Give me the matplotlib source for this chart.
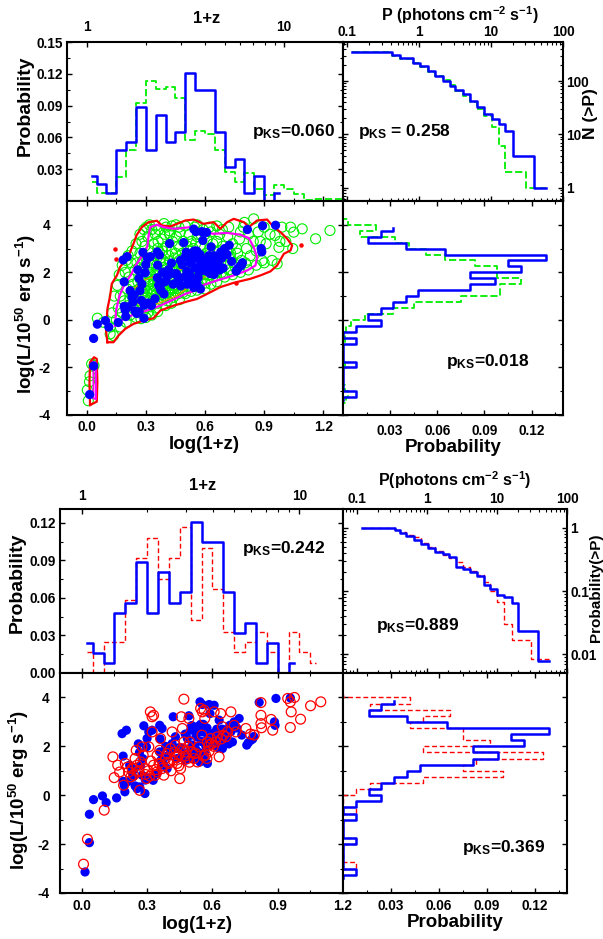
import matplotlib
matplotlib.use("Agg")
import matplotlib.pyplot as plt
from matplotlib.ticker import FixedLocator, FixedFormatter, NullFormatter, LogLocator

plt.rcParams.update({
    'font.family': ['Liberation Sans', 'DejaVu Sans'],
    'font.weight': 'bold',
    'mathtext.fontset': 'custom',
    'mathtext.rm': 'Liberation Sans:bold',
    'mathtext.it': 'Liberation Sans:bold',
    'mathtext.bf': 'Liberation Sans:bold',
    'mathtext.default': 'regular',
    'axes.unicode_minus': False,
    'axes.linewidth': 1.5,
    'xtick.direction': 'in', 'ytick.direction': 'in',
    'xtick.major.size': 3.5, 'ytick.major.size': 3.5,
    'xtick.minor.size': 2, 'ytick.minor.size': 2,
    'xtick.major.width': 1.0, 'ytick.major.width': 1.0,
    'xtick.minor.width': 0.8, 'ytick.minor.width': 0.8,
})

# ---------------------------------------------------------------- data
# log(1+z) histograms: bin centres and probabilities
lz_cent_obs = [0.025, 0.075, 0.125, 0.175, 0.225, 0.275, 0.325, 0.375, 0.425, 0.475,
               0.525, 0.575, 0.625, 0.675, 0.725, 0.775, 0.825, 0.875, 0.925, 0.975]
lz_prob_obs = [0.024, 0.016, 0.008, 0.048, 0.056, 0.089, 0.048, 0.081, 0.056, 0.065,
               0.121, 0.105, 0.105, 0.065, 0.032, 0.040, 0.008, 0.024, 0.000, 0.008]
lz_cent_sim = [0.025, 0.075, 0.125, 0.175, 0.225, 0.275, 0.325, 0.375, 0.425, 0.475,
               0.525, 0.575, 0.625, 0.675, 0.725, 0.775, 0.825, 0.875, 0.925, 0.975,
               1.025, 1.075, 1.125, 1.175, 1.225, 1.275, 1.325]
lz_prob_sim = [0.018, 0.008, 0.008, 0.023, 0.048, 0.092, 0.113, 0.106, 0.108, 0.097,
               0.058, 0.066, 0.063, 0.048, 0.027, 0.018, 0.026, 0.011, 0.006, 0.015,
               0.011, 0.007, 0.001, 0.0015, 0.0015, 0.002, 0.002]
lz_cent_red = [0.025, 0.075, 0.125, 0.175, 0.225, 0.275, 0.325, 0.375, 0.425, 0.475,
               0.525, 0.575, 0.625, 0.675, 0.725, 0.775, 0.825, 0.875, 0.925, 0.975,
               1.025, 1.075]
lz_prob_red = [0.017, 0.000, 0.025, 0.025, 0.058, 0.092, 0.108, 0.075, 0.092, 0.117,
               0.042, 0.100, 0.067, 0.033, 0.017, 0.025, 0.033, 0.017, 0.000, 0.033,
               0.017, 0.008]

# log L histograms: bin centres and probabilities
lL_cent_obs = [3.875, 3.625, 3.375, 3.125, 2.875, 2.625, 2.375, 2.125, 1.875, 1.625,
               1.375, 1.125, 0.875, 0.625, 0.375, 0.125, -0.125, -0.375, -0.625, -0.875,
               -1.125, -1.375, -1.625, -1.875, -2.125, -2.375, -2.625, -2.875, -3.125, -3.375]
lL_prob_obs = [0.032, 0.024, 0.016, 0.040, 0.065, 0.129, 0.105, 0.113, 0.081, 0.097,
               0.081, 0.048, 0.040, 0.032, 0.024, 0.016, 0.024, 0.008, 0.000, 0.008,
               0.000, 0.000, 0.000, 0.008, 0.000, 0.000, 0.000, 0.000, 0.008, 0.000]
lL_cent_sim = [4.375, 4.125, 3.875, 3.625, 3.375, 3.125, 2.875, 2.625, 2.375, 2.125,
               1.875, 1.625, 1.375, 1.125, 0.875, 0.625, 0.375, 0.125, -0.125, -0.375,
               -0.625, -0.875, -1.125, -1.375, -1.625, -1.875, -2.125, -2.375, -2.625,
               -2.875, -3.125, -3.375, -3.625]
lL_prob_sim = [0.000, 0.003, 0.021, 0.011, 0.033, 0.042, 0.053, 0.065, 0.084, 0.098,
               0.098, 0.113, 0.100, 0.100, 0.075, 0.045, 0.032, 0.014, 0.005, 0.002,
               0.001, 0.001, 0.000, 0.000, 0.000, 0.001, 0.000, 0.000, 0.000,
               0.001, 0.003, 0.002, 0.000]
lL_cent_red = [4.125, 3.875, 3.625, 3.375, 3.125, 2.875, 2.625, 2.375, 2.125, 1.875,
               1.625, 1.375, 1.125, 0.875, 0.625, 0.375, 0.125, -0.125, -0.375, -0.625,
               -0.875, -1.125, -1.375, -1.625, -1.875, -2.125, -2.375, -2.625, -2.875, -3.125]
lL_prob_red = [0.000, 0.042, 0.017, 0.067, 0.050, 0.042, 0.075, 0.075, 0.092, 0.050,
               0.125, 0.083, 0.075, 0.100, 0.050, 0.017, 0.008, 0.000, 0.000, 0.008,
               0.000, 0.000, 0.000, 0.000, 0.008, 0.000, 0.000, 0.000, 0.008, 0.000]

# peak-flux distributions
P_top_obs = [0.115, 0.417, 0.532, 0.817, 1.03, 1.31, 1.67, 2.14, 2.71, 3.18, 4.06, 5.04,
             6.38, 7.91, 10.3, 12.8, 15.8, 20.3, 39.4, 57.3]
N_top_obs = [355, 307, 266, 221, 191, 156, 124, 100, 81, 68, 57, 43, 32, 24, 19.4, 15.4,
             11.7, 4, 1, 1]
P_top_sim = [0.115, 0.417, 0.532, 0.817, 1.03, 1.31, 1.67, 2.14, 2.71, 3.18, 4.06, 5.04,
             6.38, 7.91, 10.3, 12.8, 15.8, 30.1, 57.3]
N_top_sim = [355, 300, 258, 215, 185, 150, 122, 104, 86, 66, 52, 40, 30, 22, 14, 6, 2, 1, 1]
P_bot_obs = [0.118, 0.349, 0.411, 0.511, 0.649, 0.817, 1.04, 1.32, 1.69, 2.10, 2.61, 3.32,
             4.17, 5.19, 6.45, 8.02, 9.96, 12.6, 16.3, 20.2, 38.8, 55.0]
F_bot_obs = [1.0, 0.92, 0.81, 0.75, 0.64, 0.545, 0.48, 0.41, 0.39, 0.35, 0.242, 0.22,
             0.20, 0.17, 0.126, 0.107, 0.087, 0.080, 0.064, 0.0237, 0.0078, 0.0078]
P_bot_red = [0.118, 0.349, 0.411, 0.511, 0.649, 0.817, 1.04, 1.32, 1.69, 2.10, 2.61, 3.32,
             4.17, 5.19, 6.45, 8.02, 9.96, 12.6, 16.3, 30.2, 55.0]
F_bot_red = [1.0, 0.93, 0.85, 0.77, 0.70, 0.57, 0.50, 0.43, 0.37, 0.33, 0.29, 0.24,
             0.21, 0.18, 0.14, 0.10, 0.068, 0.030, 0.0168, 0.0084, 0.0084]

# observed GRBs (log(1+z), log L)
obs_pts = [
    (0.015, -3.14), (0.035, -1.94), (0.035, -0.78),
    (0.054, -0.18), (0.095, -0.03),
    (0.112, -0.30),
    (0.160, -0.11), (0.185, 2.52), (0.190, 1.60), (0.190, 0.57), (0.195, 0.41), (0.198, 0.14),
    (0.205, 2.66), (0.220, 1.23), (0.230, 0.95), (0.245, 0.38), (0.210, 0.55), (0.240, 1.05), (0.235, 0.75),
    (0.254, 0.27), (0.266, 0.34), (0.285, 2.84), (0.290, 0.07), (0.297, 1.98), (0.270, 1.23), (0.277, 0.82),
    (0.260, 2.10), (0.280, 1.50), (0.265, 1.75), (0.292, 0.62),
    (0.300, 2.32), (0.308, 2.59), (0.323, 2.66), (0.328, 0.61), (0.346, 0.89), (0.310, 0.71),
    (0.374, 1.30), (0.358, 2.86), (0.369, 2.73), (0.358, 1.77), (0.377, 1.23), (0.392, 1.09), (0.360, 2.30),
    (0.385, 2.00), (0.395, 1.60), (0.365, 1.45),
    (0.400, 1.64), (0.415, 2.11), (0.420, 3.21), (0.430, 2.39), (0.438, 1.50), (0.445, 1.94), (0.410, 1.85),
    (0.455, 1.94), (0.469, 1.71), (0.477, 1.43), (0.485, 2.32), (0.492, 3.25), (0.460, 1.60), (0.475, 2.50),
    (0.495, 1.80),
    (0.500, 2.66), (0.508, 2.05), (0.515, 1.71), (0.530, 2.80), (0.543, 3.82), (0.546, 2.90), (0.543, 1.36),
    (0.520, 1.95), (0.525, 2.40), (0.535, 2.60), (0.510, 1.50), (0.540, 1.55), (0.548, 2.20), (0.505, 2.85),
    (0.530, 1.80),
    (0.554, 3.71), (0.554, 2.59), (0.562, 2.18), (0.565, 1.77), (0.577, 1.30), (0.585, 3.71), (0.589, 3.34),
    (0.560, 1.50), (0.570, 2.00), (0.580, 2.40), (0.595, 2.10), (0.575, 2.75), (0.558, 2.90),
    (0.608, 3.68), (0.600, 2.52), (0.608, 2.05), (0.631, 3.07), (0.638, 2.18), (0.646, 1.91), (0.615, 2.30),
    (0.620, 2.70), (0.625, 1.95), (0.640, 2.55), (0.605, 2.20), (0.635, 2.40), (0.645, 2.70),
    (0.654, 2.66), (0.669, 2.46), (0.680, 2.86), (0.692, 2.18), (0.660, 2.30), (0.675, 2.10), (0.685, 2.60),
    (0.695, 2.85),
    (0.700, 3.00), (0.712, 2.75), (0.723, 3.14), (0.735, 2.46),
    (0.758, 2.05), (0.777, 2.25), (0.765, 2.15), (0.790, 2.40), (0.785, 2.30),
    (0.815, 3.80),
    (0.885, 3.00), (0.888, 2.86), (0.892, 3.96),
    (0.958, 3.98)]

# simulated sample (top panel, open green circles)
sim_pts = [
    (0.008, -3.40), (0.003, -2.95), (0.014, -2.60), (0.017, -2.35), (0.025, -1.85), (0.037, -1.92),
    (0.054, 0.07), (0.085, -0.10),
    (0.119, -0.59), (0.136, -0.66),
    (0.155, 1.45), (0.170, 1.00), (0.180, 0.30), (0.190, 0.80), (0.160, 0.50), (0.195, 2.00),
    (0.205, 1.30), (0.210, 0.60), (0.215, 1.80), (0.220, 0.20), (0.225, 2.40), (0.230, 1.00),
    (0.235, 1.50), (0.240, 0.45), (0.245, 2.10), (0.210, 2.70), (0.240, 1.20), (0.220, 0.85),
    (0.255, 0.50), (0.260, 1.00), (0.260, 1.60), (0.265, 2.20), (0.270, 0.30), (0.270, 2.80),
    (0.275, 1.30), (0.280, 0.70), (0.280, 1.90), (0.285, 2.50), (0.285, 1.10), (0.290, 0.40),
    (0.290, 1.60), (0.295, 3.10), (0.295, 0.90), (0.255, 2.40), (0.265, 1.30), (0.275, 0.05),
    (0.280, 3.30), (0.290, 2.20), (0.260, 0.80), (0.298, 1.35), (0.272, 1.70),
    (0.300, 0.60), (0.300, 1.80), (0.305, 2.60), (0.305, 1.20), (0.310, 0.30), (0.310, 3.50),
    (0.315, 1.50), (0.315, 2.20), (0.320, 0.90), (0.320, 2.90), (0.325, 1.90), (0.325, 0.55),
    (0.330, 1.30), (0.330, 3.80), (0.335, 2.40), (0.335, 0.80), (0.340, 1.70), (0.340, 3.20),
    (0.345, 1.00), (0.345, 2.70), (0.350, 0.50), (0.350, 2.00), (0.302, 3.90), (0.318, 4.00),
    (0.328, 1.10), (0.338, 1.45), (0.312, 2.00), (0.348, 3.60),
    (0.355, 1.10), (0.355, 2.30), (0.360, 0.70), (0.360, 3.00), (0.365, 1.60), (0.365, 3.80),
    (0.370, 2.00), (0.370, 1.25), (0.375, 2.60), (0.375, 0.85), (0.380, 1.85), (0.380, 3.40),
    (0.385, 1.40), (0.385, 2.90), (0.390, 0.90), (0.390, 2.20), (0.395, 1.70), (0.395, 3.60),
    (0.358, 1.50), (0.368, 2.85), (0.378, 1.05), (0.388, 2.50), (0.398, 1.20), (0.352, 1.85),
    (0.362, 3.30), (0.392, 4.05),
    (0.400, 1.00), (0.400, 2.40), (0.405, 1.50), (0.405, 3.10), (0.410, 1.90), (0.410, 0.80),
    (0.415, 2.70), (0.415, 1.30), (0.420, 3.60), (0.420, 2.10), (0.425, 1.60), (0.425, 1.05),
    (0.430, 2.90), (0.430, 1.85), (0.435, 3.30), (0.435, 1.30), (0.440, 2.30), (0.440, 0.95),
    (0.445, 1.70), (0.445, 2.60), (0.402, 3.90), (0.412, 1.15), (0.422, 2.45), (0.432, 3.95),
    (0.442, 1.45), (0.448, 2.05), (0.418, 1.75),
    (0.450, 1.20), (0.450, 2.80), (0.455, 1.80), (0.455, 3.50), (0.460, 2.20), (0.460, 1.45),
    (0.465, 3.10), (0.465, 1.10), (0.470, 2.50), (0.470, 1.90), (0.475, 1.60), (0.475, 3.70),
    (0.480, 2.10), (0.480, 1.35), (0.485, 2.80), (0.485, 1.70), (0.490, 3.30), (0.490, 2.30),
    (0.495, 1.50), (0.495, 2.00), (0.452, 4.00), (0.468, 3.90), (0.488, 1.15), (0.478, 2.35),
    (0.500, 1.70), (0.505, 2.40), (0.510, 3.10), (0.515, 1.40), (0.520, 2.00), (0.520, 3.60),
    (0.525, 2.70), (0.530, 1.60), (0.535, 2.20), (0.540, 3.00), (0.540, 1.80), (0.545, 2.50),
    (0.548, 3.90), (0.510, 1.95), (0.530, 3.30),
    (0.550, 1.50), (0.555, 2.10), (0.560, 2.80), (0.560, 3.50), (0.565, 1.80), (0.570, 2.40),
    (0.575, 3.10), (0.580, 1.60), (0.580, 2.00), (0.585, 2.70), (0.590, 3.80), (0.590, 2.30),
    (0.595, 1.90), (0.552, 3.20), (0.568, 1.40), (0.578, 3.60), (0.598, 2.60),
    (0.600, 2.10), (0.605, 2.80), (0.610, 3.40), (0.610, 1.70), (0.615, 2.40), (0.620, 1.90),
    (0.625, 3.00), (0.630, 2.20), (0.630, 3.70), (0.635, 2.60), (0.640, 1.80), (0.640, 3.20),
    (0.645, 2.35), (0.648, 2.90), (0.602, 1.55), (0.622, 3.90),
    (0.650, 2.00), (0.655, 2.60), (0.660, 3.30), (0.665, 2.20), (0.670, 2.90), (0.675, 3.60),
    (0.680, 2.40), (0.685, 2.00), (0.690, 3.10), (0.695, 2.70), (0.658, 1.85), (0.688, 3.80),
    (0.700, 2.30), (0.710, 2.90), (0.715, 3.50), (0.720, 2.10), (0.730, 2.60), (0.740, 3.20),
    (0.745, 2.40),
    (0.755, 2.20), (0.765, 2.80), (0.775, 3.40), (0.785, 2.50), (0.795, 3.90),
    (0.805, 2.40), (0.810, 3.00), (0.820, 3.60), (0.830, 2.70), (0.847, 4.25), (0.845, 3.30),
    (0.860, 2.90), (0.870, 3.70), (0.890, 2.50),
    (0.910, 3.20), (0.940, 2.50),
    (0.955, 3.55), (0.966, 2.36), (0.975, 3.05), (0.990, 3.90),
    (1.010, 3.30), (1.034, 3.90), (1.045, 3.00),
    (1.050, 3.69), (1.093, 3.83),
    (1.161, 3.41), (1.234, 3.76),
    (0.130, 0.30), (0.150, 0.00), (0.170, -0.30), (0.120, -0.30), (0.140, 1.00), (0.165, 1.90),
    (0.180, 2.30), (0.200, -0.10), (0.200, 2.50), (0.230, 2.90), (0.250, 3.20), (0.270, 3.60),
    (0.290, 3.80), (0.250, 0.10), (0.300, 0.10), (0.330, 0.20), (0.360, 0.35), (0.400, 0.60),
    (0.430, 0.70), (0.470, 0.85), (0.500, 1.10), (0.530, 1.20), (0.560, 1.25), (0.600, 1.30),
    (0.630, 1.50), (0.660, 1.60), (0.700, 1.80), (0.740, 1.90), (0.780, 2.00), (0.820, 2.10),
    (0.860, 2.30), (0.900, 2.40), (0.350, 3.95), (0.420, 3.75), (0.500, 3.95), (0.560, 4.00),
    (0.600, 3.60), (0.660, 3.95), (0.720, 3.90), (0.780, 3.70), (0.800, 4.10), (0.900, 3.90),
    (0.930, 3.60), (0.980, 3.30), (0.880, 3.30), (0.760, 3.00), (0.730, 2.80), (0.320, 1.60),
    (0.370, 2.45), (0.440, 2.00), (0.490, 2.60), (0.520, 2.90), (0.550, 2.35), (0.620, 2.75),
    (0.670, 2.45), (0.570, 1.95), (0.470, 1.30), (0.420, 1.45), (0.340, 1.25), (0.280, 2.40)]

# second comparison sample (bottom panel, open red circles)
red_pts = [
    (0.008, -2.82), (0.026, -1.80),
    (0.103, -0.61), (0.143, 1.57), (0.149, 0.72),
    (0.165, 1.23), (0.174, 0.95), (0.192, 0.41),
    (0.200, 1.30), (0.215, 0.95), (0.231, 1.09), (0.238, 0.82), (0.210, 1.15), (0.245, 1.50), (0.225, 0.75),
    (0.250, 1.84), (0.254, 1.23), (0.257, 0.95), (0.266, 0.20), (0.270, 1.36), (0.277, 1.98), (0.282, 1.64),
    (0.288, 1.09), (0.297, 0.68), (0.262, 1.00), (0.292, 0.85),
    (0.308, 1.98), (0.315, 3.41), (0.323, 3.21), (0.330, 3.27), (0.323, 2.59), (0.330, 1.23), (0.338, 0.82),
    (0.346, 1.64), (0.305, 1.00), (0.312, 0.78), (0.340, 1.05), (0.318, 1.40), (0.345, 0.95),
    (0.358, 1.84), (0.362, 2.32), (0.369, 1.09), (0.377, 0.82), (0.385, 1.50), (0.392, 1.71), (0.355, 1.30),
    (0.370, 1.20), (0.395, 1.35),
    (0.400, 1.30), (0.408, 1.91), (0.415, 2.59), (0.420, 1.43), (0.426, 1.77), (0.430, 2.05), (0.438, 1.30),
    (0.446, 1.64), (0.410, 1.00), (0.435, 1.55), (0.445, 1.20),
    (0.450, 0.68), (0.454, 1.09), (0.457, 3.21), (0.462, 2.73), (0.469, 3.93), (0.469, 2.18), (0.477, 1.77),
    (0.485, 1.50), (0.492, 3.14), (0.497, 2.18), (0.460, 1.90), (0.475, 1.60), (0.488, 2.00), (0.495, 1.35),
    (0.508, 1.77), (0.515, 1.50), (0.523, 1.71), (0.531, 1.36), (0.538, 1.98), (0.546, 3.55),
    (0.554, 3.41), (0.562, 3.48), (0.565, 3.14), (0.569, 1.64), (0.577, 2.18), (0.585, 2.05), (0.592, 2.32),
    (0.552, 2.46), (0.560, 1.60), (0.575, 1.50), (0.585, 1.80), (0.595, 2.10),
    (0.608, 3.41), (0.615, 2.18), (0.623, 2.39), (0.631, 1.57), (0.638, 3.34), (0.646, 2.80), (0.605, 2.00),
    (0.640, 2.30),
    (0.651, 2.46), (0.662, 2.39), (0.685, 3.41), (0.670, 2.60),
    (0.700, 2.86), (0.708, 2.59),
    (0.754, 2.73), (0.792, 2.46), (0.775, 2.50),
    (0.823, 3.79), (0.823, 3.27), (0.823, 2.93), (0.826, 2.76),
    (0.877, 2.66), (0.870, 3.10),
    (0.946, 3.96), (0.958, 3.82), (0.962, 3.41), (0.958, 2.77), (0.977, 4.00),
    (1.005, 3.11),
    (1.051, 3.66), (1.098, 3.82)]

# density contours of the simulated sample (log(1+z), log L)
cont_red_x = [0.105, 0.098, 0.105, 0.119, 0.127, 0.153, 0.169, 0.195, 0.220, 0.237, 0.254, 0.280,
              0.314, 0.356, 0.381, 0.424, 0.458, 0.500, 0.542, 0.593, 0.644, 0.678, 0.712, 0.746,
              0.797, 0.822, 0.864, 0.915, 0.949, 0.983, 1.017, 1.042, 1.034, 1.000, 0.966, 0.932,
              0.881, 0.831, 0.746, 0.678, 0.610, 0.559, 0.508, 0.441, 0.373, 0.339, 0.288, 0.237,
              0.195, 0.161, 0.136, 0.105]
cont_red_y = [-0.94, -0.45, 0.46, 1.02, 1.52, 1.87, 2.22, 2.50, 2.85, 3.20, 3.58, 3.90,
              4.11, 4.17, 3.97, 3.93, 4.04, 4.18, 4.22, 4.04, 4.11, 3.83, 4.11, 4.25,
              4.11, 3.90, 4.18, 4.22, 3.90, 3.69, 3.41, 3.13, 2.92, 2.78, 2.29, 2.04,
              1.87, 1.73, 1.56, 1.38, 1.09, 0.88, 0.77, 0.60, 0.39, 0.07, -0.03, -0.17,
              -0.38, -0.66, -0.94, -0.94]
cont_red2_x = [0.017, 0.051, 0.054, 0.051, 0.037, 0.017, 0.014, 0.017]
cont_red2_y = [-3.58, -3.44, -2.62, -1.64, -1.57, -1.78, -2.62, -3.58]
cont_mag_x = [0.144, 0.149, 0.166, 0.190, 0.224, 0.246, 0.271, 0.297, 0.308, 0.314, 0.322, 0.356,
              0.390, 0.441, 0.483, 0.525, 0.576, 0.644, 0.712, 0.780, 0.822, 0.847, 0.864, 0.856,
              0.814, 0.746, 0.661, 0.593, 0.551, 0.500, 0.441, 0.373, 0.305, 0.237, 0.186, 0.153,
              0.144]
cont_mag_y = [-0.24, 0.39, 1.02, 1.47, 1.89, 2.26, 2.57, 2.85, 3.13, 3.55, 3.90, 4.00,
              3.90, 3.83, 3.86, 3.90, 3.72, 3.62, 3.66, 3.58, 3.44, 3.06, 2.64, 2.29,
              2.08, 1.87, 1.66, 1.47, 1.24, 1.09, 0.86, 0.60, 0.39, 0.22, 0.04, -0.17,
              -0.24]
cont_mag2_x = [0.034, 0.047, 0.047, 0.034, 0.034]
cont_mag2_y = [-1.78, -1.80, -3.33, -3.30, -1.78]
cont_org_x = [0.229, 0.271, 0.356, 0.458, 0.542, 0.610, 0.644, 0.576, 0.508, 0.441, 0.356,
              0.288, 0.237, 0.229]
cont_org_y = [1.02, 0.60, 0.67, 1.02, 1.52, 1.87, 2.22, 2.36, 2.22, 2.01, 1.87,
              1.66, 1.31, 1.02]
red_dots_x = [0.144, 0.147, 0.759, 1.085]
red_dots_y = [2.99, 2.57, 1.56, 3.16]

pks_texts = ['0.060', '0.258', '0.018', '0.242', '0.889', '0.369']

# ---------------------------------------------------------------- figure
W, H = 603, 939
fig = plt.figure(figsize=(W / 100, H / 100), dpi=100)


def box(l, r, t, b):
    return [l / W, 1 - b / H, (r - l) / W, (b - t) / H]


BLUE = '#0000FF'
GREEN = '#00EE00'
RED = '#FF0000'
MAG = '#FF00FF'
ORG = '#FF8C00'
TFS = 9.8
LFS = 13.5


def vstep(ax, centers, values, **kw):
    xs, ys = [values[0]], [centers[0]]
    for i in range(len(centers) - 1):
        m = 0.5 * (centers[i] + centers[i + 1])
        ys += [m, m]
        xs += [values[i], values[i + 1]]
    xs.append(values[-1])
    ys.append(centers[-1])
    ax.plot(xs, ys, **kw)


def bold_ticks(ax):
    for lab in ax.get_xticklabels() + ax.get_yticklabels():
        lab.set_fontweight('bold')


def setup_lz_axis(ax, xmax, labels_bottom):
    ax.set_xlim(-0.1, xmax)
    ax.xaxis.set_major_locator(FixedLocator([0.0, 0.3, 0.6, 0.9, 1.2]))
    ax.xaxis.set_minor_locator(FixedLocator([-0.15, 0.15, 0.45, 0.75, 1.05]))
    if labels_bottom:
        ax.xaxis.set_major_formatter(FixedFormatter(['0.0', '0.3', '0.6', '0.9', '1.2']))
    else:
        ax.xaxis.set_major_formatter(NullFormatter())
    ax.tick_params(axis='x', which='both', top=True, bottom=True, labelsize=TFS)


def setup_lL_axis(ax, labels_left, pad=3):
    ax.set_ylim(-4, 5)
    ax.yaxis.set_major_locator(FixedLocator([-4, -2, 0, 2, 4]))
    ax.yaxis.set_minor_locator(FixedLocator([-3, -1, 1, 3]))
    if labels_left:
        ax.yaxis.set_major_formatter(FixedFormatter(['-4', '-2', '0', '2', '4']))
    else:
        ax.yaxis.set_major_formatter(NullFormatter())
    ax.tick_params(axis='y', which='both', left=True, right=True, labelsize=TFS, pad=pad)


def add_pks(ax, x, y, val, sep='='):
    ax.text(x, y, r'p$_{KS}$' + sep + val, transform=ax.transAxes, fontsize=12.5,
            fontweight='bold', ha='left', va='center', zorder=6)


ax1 = fig.add_axes(box(67, 343, 42, 201))
ax2 = fig.add_axes(box(343, 563, 42, 201))
ax3 = fig.add_axes(box(67, 343, 201, 415))
ax4 = fig.add_axes(box(343, 563, 201, 415))
ax5 = fig.add_axes(box(60, 343, 509, 673))
ax6 = fig.add_axes(box(343, 567, 509, 673))
ax7 = fig.add_axes(box(60, 343, 673, 893))
ax8 = fig.add_axes(box(343, 567, 673, 893))

dash_g = dict(color=GREEN, lw=1.3, ls=(0, (4, 1.6)), zorder=3)
dash_r = dict(color=RED, lw=1.0, ls=(0, (3.5, 2)), zorder=3)
solid_b = dict(color=BLUE, lw=1.8, zorder=4)

# ---------- redshift histograms ----------
for ax, lz_c2, lz_p2, dsty, xmax, ylim, yt, ytl in [
        (ax1, lz_cent_sim, lz_prob_sim, dash_g, 1.3, 0.15,
         [0.03, 0.06, 0.09, 0.12, 0.15], ['0.03', '0.06', '0.09', '0.12', '0.15']),
        (ax5, lz_cent_red, lz_prob_red, dash_r, 1.2, 0.131,
         [0.0, 0.03, 0.06, 0.09, 0.12], ['0.00', '0.03', '0.06', '0.09', '0.12'])]:
    ax.step(lz_c2, lz_p2, where='mid', **dsty)
    ax.step(lz_cent_obs, lz_prob_obs, where='mid', **solid_b)
    setup_lz_axis(ax, xmax, False)
    ax.set_ylim(0, ylim)
    ax.yaxis.set_major_locator(FixedLocator(yt))
    ax.yaxis.set_major_formatter(FixedFormatter(ytl))
    ax.yaxis.set_minor_locator(FixedLocator([0.015, 0.045, 0.075, 0.105, 0.135]))
    ax.tick_params(axis='y', which='both', left=True, right=True, labelsize=TFS, pad=3)
    ax.tick_params(axis='x', which='both', top=False)
    tw = ax.twiny()
    tw.set_xlim(ax.get_xlim())
    tw.xaxis.set_major_locator(FixedLocator([0.0, 1.0]))
    tw.xaxis.set_major_formatter(FixedFormatter(['1', '10']))
    tw.xaxis.set_minor_locator(FixedLocator([0.30103, 0.47712, 0.60206, 0.69897, 0.77815,
                                             0.84510, 0.90309, 0.95424, 1.30103]))
    tw.tick_params(axis='x', which='both', labelsize=TFS, pad=6 if ax is ax1 else 4)
    tw.set_xlabel('1+z', fontsize=12, fontweight='bold')
    tw.xaxis.set_label_coords(0.507 if ax is ax1 else 0.505, 1.15 if ax is ax1 else 1.146)
    tw.xaxis.label.set_va('center')
    for lab in tw.get_xticklabels():
        lab.set_fontweight('bold')
    for s in tw.spines.values():
        s.set_visible(False)
    ax.set_ylabel('Probability', fontsize=14, fontweight='bold')
    ax.yaxis.label.set_va('center')

ax1.yaxis.set_label_coords(-0.15, 0.60)
ax5.yaxis.set_label_coords(-0.152, 0.55)
add_pks(ax1, 0.67, 0.44, pks_texts[0])
add_pks(ax5, 0.643, 0.76, pks_texts[3])

# ---------- peak flux distributions ----------
ax2.step(P_top_sim, N_top_sim, where='post', **dash_g)
ax2.step(P_top_obs, N_top_obs, where='post', **solid_b)
ax2.set_xscale('log')
ax2.set_yscale('log')
ax2.set_xlim(0.087, 100)
ax2.set_ylim(0.56, 540)
ax2.yaxis.set_major_locator(FixedLocator([1, 10, 100]))
ax2.yaxis.set_major_formatter(FixedFormatter(['1', '10', '100']))
ax2.set_ylabel('N (>P)', fontsize=12.5, fontweight='bold')
ax2.yaxis.set_label_position('right')
ax2.yaxis.set_label_coords(1.127, 0.553)
ax2.yaxis.label.set_va('center')
ax2.set_xlabel('P (photons cm$^{-2}$ s$^{-1}$)', fontsize=11.5, fontweight='bold')
ax2.xaxis.set_label_position('top')
ax2.xaxis.set_label_coords(0.532, 1.17)
ax2.xaxis.label.set_va('center')
add_pks(ax2, 0.068, 0.44, pks_texts[1], sep=' = ')

ax6.step(P_bot_red, F_bot_red, where='post', **dash_r)
ax6.step(P_bot_obs, F_bot_obs, where='post', **solid_b)
ax6.set_xscale('log')
ax6.set_yscale('log')
ax6.set_xlim(0.064, 100)
ax6.set_ylim(0.0051, 1.97)
ax6.yaxis.set_major_locator(FixedLocator([0.01, 0.1, 1]))
ax6.yaxis.set_major_formatter(FixedFormatter(['0.01', '0.1', '1']))
ax6.set_ylabel('Probability(>P)', fontsize=11, fontweight='bold')
ax6.yaxis.set_label_position('right')
ax6.yaxis.set_label_coords(1.129, 0.52)
ax6.yaxis.label.set_va('center')
ax6.set_xlabel('P(photons cm$^{-2}$ s$^{-1}$)', fontsize=11.5, fontweight='bold')
ax6.xaxis.set_label_position('top')
ax6.xaxis.set_label_coords(0.5, 1.175)
ax6.xaxis.label.set_va('center')
add_pks(ax6, 0.147, 0.29, pks_texts[4])

for ax in (ax2, ax6):
    ax.xaxis.set_major_locator(FixedLocator([0.1, 1, 10, 100]))
    ax.xaxis.set_major_formatter(FixedFormatter(['0.1', '1', '10', '100']))
    ax.xaxis.set_minor_locator(LogLocator(base=10, subs=[2, 3, 4, 5, 6, 7, 8, 9], numticks=20))
    ax.xaxis.set_minor_formatter(NullFormatter())
    ax.yaxis.set_minor_locator(LogLocator(base=10, subs=[2, 3, 4, 5, 6, 7, 8, 9], numticks=20))
    ax.yaxis.set_minor_formatter(NullFormatter())
    ax.tick_params(axis='both', which='both', top=True, bottom=True, left=True, right=True,
                   labeltop=True, labelbottom=False, labelleft=False, labelright=True,
                   labelsize=TFS, pad=2.5)

# ---------- luminosity-redshift planes ----------
sx = [p[0] for p in sim_pts]
sy = [p[1] for p in sim_pts]
ax3.scatter(sx, sy, s=52, facecolors='none', edgecolors=GREEN, linewidths=0.8, zorder=2)
ax3.plot(cont_red_x, cont_red_y, color=RED, lw=1.6, zorder=3)
ax3.plot(cont_red2_x, cont_red2_y, color=RED, lw=1.6, zorder=3)
ax3.plot(cont_mag_x, cont_mag_y, color=MAG, lw=1.6, zorder=3)
ax3.plot(cont_mag2_x, cont_mag2_y, color=MAG, lw=1.4, zorder=3)
ax3.plot(cont_org_x, cont_org_y, color=ORG, lw=0.8, zorder=3)
ax3.scatter(red_dots_x, red_dots_y, s=5, color=RED, zorder=3)
ox = [p[0] for p in obs_pts]
oy = [p[1] for p in obs_pts]
ax3.scatter(ox, oy, s=44, color=BLUE, edgecolors='none', zorder=5)

rx = [p[0] for p in red_pts]
ry = [p[1] for p in red_pts]
ax7.scatter(ox, oy, s=44, color=BLUE, edgecolors='none', zorder=4)
ax7.scatter(rx, ry, s=50, facecolors='none', edgecolors=RED, linewidths=0.9, zorder=5)

setup_lz_axis(ax3, 1.3, True)
setup_lL_axis(ax3, True, pad=12)
setup_lz_axis(ax7, 1.2, True)
setup_lL_axis(ax7, True, pad=7.5)
ax3.tick_params(axis='x', pad=3.5)
ax7.tick_params(axis='x', pad=4.5)
for ax, yx, xl in ((ax3, (-0.148, 0.472), (0.496, -0.14)), (ax7, (-0.145, 0.468), (0.484, -0.141))):
    ax.set_ylabel('log(L/10$^{50}$ erg s$^{-1}$)', fontsize=LFS, fontweight='bold')
    ax.yaxis.set_label_coords(*yx)
    ax.yaxis.label.set_va('center')
    ax.set_xlabel('log(1+z)', fontsize=LFS, fontweight='bold')
    ax.xaxis.set_label_coords(*xl)
    ax.xaxis.label.set_va('center')

# ---------- luminosity histograms ----------
vstep(ax4, lL_cent_sim, lL_prob_sim, **dash_g)
vstep(ax4, lL_cent_obs, lL_prob_obs, **solid_b)
vstep(ax8, lL_cent_red, lL_prob_red, **dash_r)
vstep(ax8, lL_cent_obs, lL_prob_obs, **solid_b)
for ax, pad, xl in ((ax4, 6.5, -0.154), (ax8, 4.5, -0.136)):
    ax.set_xlim(0, 0.14)
    ax.xaxis.set_major_locator(FixedLocator([0.03, 0.06, 0.09, 0.12]))
    ax.xaxis.set_major_formatter(FixedFormatter(['0.03', '0.06', '0.09', '0.12']))
    ax.xaxis.set_minor_locator(FixedLocator([0.015, 0.045, 0.075, 0.105, 0.135]))
    ax.tick_params(axis='x', which='both', top=True, bottom=True, labelsize=TFS, pad=pad)
    setup_lL_axis(ax, False)
    ax.set_xlabel('Probability', fontsize=LFS, fontweight='bold')
    ax.xaxis.set_label_coords(0.5, xl)
    ax.xaxis.label.set_va('center')
add_pks(ax4, 0.468, 0.25, pks_texts[2])
add_pks(ax8, 0.531, 0.205, pks_texts[5])

for ax in (ax1, ax2, ax3, ax4, ax5, ax6, ax7, ax8):
    bold_ticks(ax)
    for s in ax.spines.values():
        s.set_linewidth(1.5)
        s.set_zorder(6)

fig.savefig('out.png', dpi=100, facecolor='white')
